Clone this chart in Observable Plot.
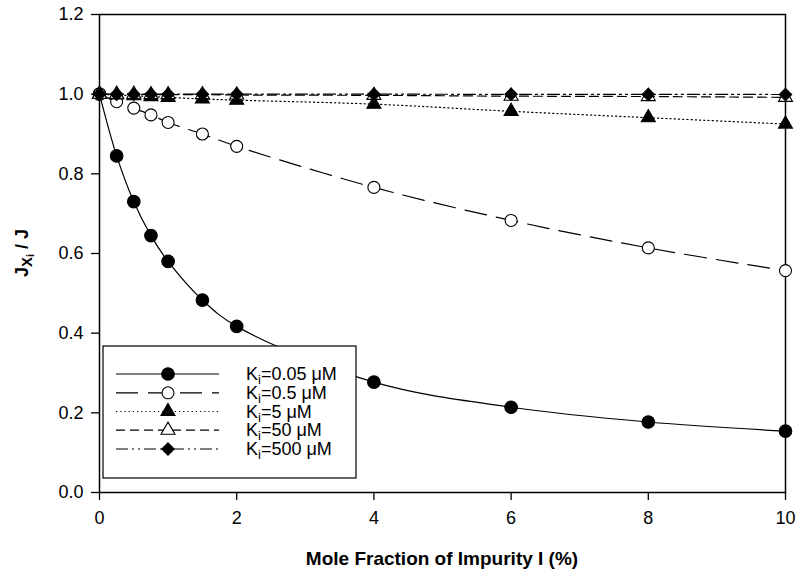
<!DOCTYPE html>
<html>
<head>
<meta charset="utf-8">
<script src="https://cdn.jsdelivr.net/npm/d3@7"></script>
<script src="https://cdn.jsdelivr.net/npm/@observablehq/plot@0.6"></script>
<style>
  html, body { margin: 0; padding: 0; background: #fff; }
  #chart { width: 800px; height: 573px; }
</style>
</head>
<body>
<div id="chart"></div>
<script>
// ---- Data ----
const moleFraction = [0, 0.25, 0.5, 0.75, 1, 1.5, 2, 4, 6, 8, 10];
const ki005 = [1.0, 0.845, 0.730, 0.645, 0.580, 0.483, 0.417, 0.277, 0.214, 0.177, 0.154];
const ki05  = [1.0, 0.981, 0.965, 0.948, 0.929, 0.900, 0.869, 0.766, 0.683, 0.614, 0.557];
const ki5   = [1.0, 0.998, 0.996, 0.994, 0.992, 0.988, 0.985, 0.975, 0.957, 0.941, 0.925];
const ki50  = [1.0, 1.0, 1.0, 0.999, 0.999, 0.999, 0.998, 0.997, 0.995, 0.994, 0.992];
const ki500 = [1.0, 1.0, 1.0, 1.0, 1.0, 1.0, 1.0, 1.0, 0.9995, 0.9994, 0.9992];
const seriesNames = ["0.05", "0.5", "5", "50", "500"];
const xTicks = [0, 2, 4, 6, 8, 10];
const yTicks = [0, 0.2, 0.4, 0.6, 0.8, 1.0, 1.2];
const xTitle = "Mole Fraction of Impurity I (%)";

// ---- Styles per series ----
const styles = [
  {values: ki005, dash: null,            symbol: "circle",   r: 6.3, fill: "black", stroke: "black"},
  {values: ki05,  dash: "22,10",         symbol: "circle",   r: 6.0, fill: "white", stroke: "black"},
  {values: ki5,   dash: "1.2,3",         symbol: "triangle", r: 5.2, fill: "black", stroke: "black"},
  {values: ki50,  dash: "9,5",           symbol: "triangle", r: 5.2, fill: "white", stroke: "black"},
  {values: ki500, dash: "12,4,2,4,2,4",  symbol: "diamond2", r: 5.6, fill: "black", stroke: "black"}
];

const rows = [];
seriesNames.forEach((name, i) => {
  moleFraction.forEach((x, j) => rows.push({series: name, x, y: styles[i].values[j]}));
});

const lineMarks = styles.map((s, i) => Plot.line(rows.filter(d => d.series === seriesNames[i]), {
  x: "x", y: "y", stroke: "black", strokeWidth: 1.2,
  strokeDasharray: s.dash || undefined, curve: "catmull-rom"
}));
const dotMarks = styles.map((s, i) => Plot.dot(rows.filter(d => d.series === seriesNames[i]), {
  x: "x", y: "y", symbol: () => s.symbol, r: s.r, fill: s.fill, stroke: s.stroke, strokeWidth: 1.1
}));

const chart = Plot.plot({
  width: 800,
  height: 573,
  marginLeft: 99,
  marginRight: 15,
  marginTop: 14,
  marginBottom: 81,
  style: {fontFamily: "'Liberation Sans', Arial, sans-serif", fontSize: "18px", color: "black", background: "white"},
  x: {domain: [0, 10]},
  y: {domain: [0, 1.2]},
  symbol: {type: "identity"},
  marks: [
    Plot.axisX({ticks: xTicks, tickSize: 8, tickPadding: 11, label: null, strokeWidth: 1.3}),
    Plot.axisY({ticks: yTicks, tickSize: 8, tickPadding: 8, tickFormat: d3.format(".1f"), label: null, strokeWidth: 1.3}),
    Plot.frame({stroke: "black", strokeWidth: 1.5}),
    ...lineMarks,
    ...dotMarks
  ]
});
document.getElementById("chart").appendChild(chart);

// ---- Titles and legend (annotation layer) ----
const svg = d3.select(chart);
const xs = chart.scale("x"), ys = chart.scale("y");
const [x0, x1] = xs.range, [yb, yt] = ys.range;

svg.append("text")
  .attr("x", (x0 + x1) / 2).attr("y", 558)
  .attr("text-anchor", "middle").attr("dominant-baseline", "central")
  .attr("font-weight", "bold").attr("font-size", 19)
  .attr("font-family", "'Liberation Sans', Arial, sans-serif")
  .text(xTitle);

const yt_ = svg.append("text")
  .attr("transform", `translate(22,${(yb + yt) / 2}) rotate(-90)`)
  .attr("text-anchor", "middle").attr("dominant-baseline", "central")
  .attr("font-weight", "bold").attr("font-size", 18)
  .attr("font-family", "'Liberation Sans', Arial, sans-serif");
yt_.append("tspan").text("J");
yt_.append("tspan").attr("font-size", 15).attr("dy", 4).text("X");
yt_.append("tspan").attr("font-size", 11).attr("dy", 4).text("i");
yt_.append("tspan").attr("dy", -8).text(" / J");

// legend
const lg = svg.append("g").attr("text-anchor", "start");
lg.append("rect").attr("x", 103).attr("y", 346).attr("width", 253).attr("height", 132)
  .attr("fill", "white").attr("stroke", "black").attr("stroke-width", 1.2);
const rowY = [374, 392.8, 411.5, 430.2, 449];
styles.forEach((s, i) => {
  const y = rowY[i];
  lg.append("line").attr("x1", 116).attr("x2", 219).attr("y1", y).attr("y2", y)
    .attr("stroke", "black").attr("stroke-width", 1.2)
    .attr("stroke-dasharray", s.dash);
  const symType = {circle: d3.symbolCircle, triangle: d3.symbolTriangle, diamond2: d3.symbolDiamond2}[s.symbol];
  lg.append("path").attr("d", d3.symbol(symType, Math.PI * s.r * s.r)())
    .attr("transform", `translate(168,${y})`)
    .attr("fill", s.fill).attr("stroke", s.stroke).attr("stroke-width", 1.1);
  const t = lg.append("text").attr("x", 246).attr("y", y).attr("dominant-baseline", "central")
    .attr("text-anchor", "start")
    .attr("font-size", 18).attr("font-family", "'Liberation Sans', Arial, sans-serif");
  t.append("tspan").text("K");
  t.append("tspan").attr("font-size", 13).attr("dy", 5).text("i");
  t.append("tspan").attr("dy", -5).text(`=${seriesNames[i]} \u03BCM`);
});
</script>
</body>
</html>
